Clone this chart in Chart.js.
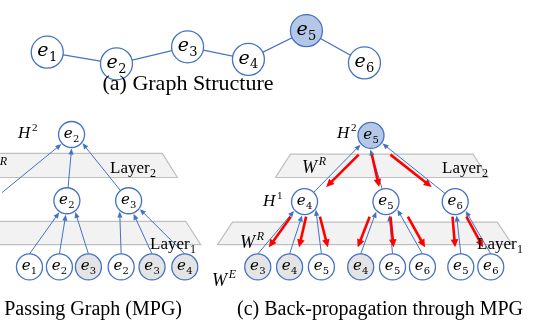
<!DOCTYPE html>
<html>
<head>
<meta charset="utf-8">
<script src="https://cdn.jsdelivr.net/npm/chart.js@4"></script>
<style>
  html, body { margin: 0; padding: 0; background: #fff; }
  #wrap { width: 538px; height: 329px; position: relative; }
</style>
</head>
<body>
<div id="wrap"><canvas id="c"></canvas></div>
<script>
// ---------- data ----------
// (a) entity graph: a chain e1 - e2 - ... - e6, e5 is the queried entity
const graphLabels = ['e1', 'e2', 'e3', 'e4', 'e5', 'e6'];
const graphX = [32, 106, 182, 247, 309, 371];
const graphY = [39, 52, 33, 47, 15, 51];
const graphQuery = 4;

// (b) message passing graph rooted at e2 (two layers)
const mpgLabels = ['e2', 'e1', 'e2', 'e3', 'e1', 'e2', 'e3', 'e2', 'e3', 'e4'];
const mpgX = [58, -27, 53, 119, 13, 45, 76, 111, 144, 179];
const mpgY = [131, 205, 205, 205, 279, 279, 279, 279, 279, 279];
const mpgParent = [-1, 0, 0, 0, 2, 2, 2, 3, 3, 3];
const mpgShaded = [false, false, false, false, false, false, true, false, true, true];

// (c) message passing graph rooted at e5, gradients flowing back down
const bpLabels = ['e5', 'e4', 'e5', 'e6', 'e3', 'e4', 'e5', 'e4', 'e5', 'e6', 'e5', 'e6'];
const bpX = [378, 307, 394, 468, 257, 291, 325, 367, 401, 433, 474, 506];
const bpY = [132, 206, 206, 206, 279, 279, 279, 279, 279, 279, 279, 279];
const bpParent = [-1, 0, 0, 0, 1, 1, 1, 2, 2, 2, 3, 3];
const bpShaded = [false, false, false, false, true, true, false, true, false, false, false, false];

// ---------- layout ----------
// where each incoming edge meets its parent circle (x offset as a fraction of the radius)
const mpgAttach = [0, -0.73, 0, 0.78, -0.55, -0.08, 0.6, -0.64, 0.35, 0.8];
const bpAttach = [0, -0.75, -0.05, 0.82, -0.75, -0.18, 0.81, -0.7, 0.24, 0.82, 0.1, 0.75];
// sideways offset of each back-propagation arrow from its edge, and its extent along the edge
const bpGradShift = [0, 7, -3.5, -5, -3, 5, 11.5, -10.5, 3, 13.5, -4, 3];
const gradSpan = { 1: [0.29, 0.78], 2: [0.23, 0.70] };

// layer bands: [top y, bottom y, left x at top, right x at top]
const bands = [
  [152, 179, -40, 155],
  [228, 254, -40, 180],
  [153, 179, 292, 487],
  [229, 254, 230, 513]
];

const BLUE = '#4472c4';
const RED = '#ff0000';
const MATH = "'DejaVu Serif', serif";
const SERIF = "'Liberation Serif', 'Times New Roman', serif";
const R_GRAPH = 16;
const R_TREE = 13;

// ---------- helpers ----------
function P(chart, x, y) {
  return [chart.scales.x.getPixelForValue(x), chart.scales.y.getPixelForValue(y)];
}
function depthOf(parent, i) {
  let d = 0;
  while (parent[i] >= 0) { i = parent[i]; d++; }
  return d;
}
function arrow(ctx, x0, y0, x1, y1, color, lw, hl, hw) {
  const dx = x1 - x0, dy = y1 - y0, d = Math.hypot(dx, dy);
  const ux = dx / d, uy = dy / d;
  const bx = x1 - ux * hl, by = y1 - uy * hl;
  ctx.save();
  ctx.strokeStyle = color; ctx.lineWidth = lw; ctx.lineCap = 'butt';
  ctx.beginPath(); ctx.moveTo(x0, y0); ctx.lineTo(bx + ux, by + uy); ctx.stroke();
  ctx.fillStyle = color;
  ctx.beginPath();
  ctx.moveTo(x1, y1);
  ctx.lineTo(bx - uy * hw, by + ux * hw);
  ctx.lineTo(bx + uy * hw, by - ux * hw);
  ctx.closePath(); ctx.fill();
  ctx.restore();
}
// base text followed by a lowered (sub) or raised (sup) index
function indexed(ctx, base, idx, x, y, size, opts) {
  const o = Object.assign({ align: 'left', italic: true, idxItalic: false, sup: false, font: MATH, idxScale: 0.66 }, opts || {});
  const bf = (o.italic ? 'italic ' : '') + size + 'px ' + o.font;
  const isz = Math.round(size * o.idxScale);
  const sf = (o.idxItalic ? 'italic ' : '') + isz + 'px ' + o.font;
  ctx.font = bf; const bw = ctx.measureText(base).width;
  ctx.font = sf; const iw = ctx.measureText(idx).width;
  const gap = o.sup ? size * 0.1 : size * 0.02;
  let x0 = x;
  if (o.align === 'center') x0 = x - (bw + gap + iw) / 2;
  else if (o.align === 'right') x0 = x - (bw + gap + iw);
  ctx.textAlign = 'left'; ctx.textBaseline = 'alphabetic'; ctx.fillStyle = '#000';
  ctx.font = bf; ctx.fillText(base, x0, y);
  ctx.font = sf; ctx.fillText(idx, x0 + bw + gap, o.sup ? y - size * 0.42 : y + size * 0.26);
}
function nodeLabel(ctx, label, x, y, size) {
  indexed(ctx, label.charAt(0), label.slice(1), x, y + size * 0.22, size, { align: 'center' });
}

// ---------- drawing plugin: bands, edges, gradients, text ----------
const diagram = {
  id: 'diagram',
  beforeDatasetsDraw(chart) {
    const ctx = chart.ctx;
    // layer bands
    bands.forEach(([t, b, l, r]) => {
      const flare = 15;
      const [lx, ty] = P(chart, l, t);
      const [rx] = P(chart, r, t);
      const [, by] = P(chart, l, b);
      ctx.save();
      ctx.beginPath();
      ctx.moveTo(lx, ty); ctx.lineTo(rx, ty);
      ctx.lineTo(rx + flare, by); ctx.lineTo(lx - flare, by);
      ctx.closePath();
      ctx.fillStyle = '#f2f2f2'; ctx.fill();
      ctx.strokeStyle = '#bfbfbf'; ctx.lineWidth = 1.2; ctx.stroke();
      ctx.restore();
    });
    // message edges (child -> parent)
    const trees = [
      [mpgX, mpgY, mpgParent, mpgAttach],
      [bpX, bpY, bpParent, bpAttach]
    ];
    trees.forEach(([xs, ys, parent, attach]) => {
      xs.forEach((_, i) => {
        const p = parent[i];
        if (p < 0) return;
        const [pxp, pyp] = P(chart, xs[p], ys[p]);
        const [cx, cy] = P(chart, xs[i], ys[i]);
        const ax = attach[i];
        const rr = R_TREE + 1;
        const tip = [pxp + ax * rr, pyp + Math.sqrt(1 - ax * ax) * rr];
        let start;
        if (depthOf(parent, i) === 2) {
          start = [cx, cy - R_TREE];
        } else {
          const dx = tip[0] - cx, dy = tip[1] - cy, d = Math.hypot(dx, dy);
          start = [cx + dx / d * R_TREE, cy + dy / d * R_TREE];
        }
        arrow(ctx, start[0], start[1], tip[0], tip[1], BLUE, 1, 6, 2.6);
      });
    });
    // gradients (parent -> child) in panel (c)
    bpX.forEach((_, i) => {
      const p = bpParent[i];
      if (p < 0) return;
      const [pxp, pyp] = P(chart, bpX[p], bpY[p]);
      const [cx, cy] = P(chart, bpX[i], bpY[i]);
      const [t0, t1] = gradSpan[depthOf(bpParent, i)];
      const s = bpGradShift[i];
      const x0 = pxp + (cx - pxp) * t0 + s, y0 = pyp + (cy - pyp) * t0;
      const x1 = pxp + (cx - pxp) * t1 + s, y1 = pyp + (cy - pyp) * t1;
      arrow(ctx, x0, y0, x1, y1, RED, 2.6, 8, 3.8);
    });
  },
  afterDatasetsDraw(chart) {
    const ctx = chart.ctx;
    ctx.save();
    // node names
    graphLabels.forEach((lb, i) => {
      const [x, y] = P(chart, graphX[i], graphY[i]);
      nodeLabel(ctx, lb, x, y, 19);
    });
    mpgLabels.forEach((lb, i) => {
      const [x, y] = P(chart, mpgX[i], mpgY[i]);
      nodeLabel(ctx, lb, x, y, 15);
    });
    bpLabels.forEach((lb, i) => {
      const [x, y] = P(chart, bpX[i], bpY[i]);
      nodeLabel(ctx, lb, x, y, 15);
    });
    // layer annotations
    const sup = { sup: true, font: SERIF, idxScale: 0.65 };
    const supIt = { sup: true, idxItalic: true, font: SERIF, idxScale: 0.65 };
    const lay = { italic: false, font: SERIF, idxScale: 0.7 };
    indexed(ctx, 'H', '2', 18, 138, 17, sup);
    indexed(ctx, 'W', 'R', -17, 173, 18, supIt);
    indexed(ctx, 'Layer', '2', 110, 173, 17, lay);
    indexed(ctx, 'Layer', '1', 150, 249, 17, lay);

    indexed(ctx, 'H', '2', 337, 138, 17, sup);
    indexed(ctx, 'W', 'R', 302, 173, 18, supIt);
    indexed(ctx, 'Layer', '2', 442, 173, 17, lay);
    indexed(ctx, 'H', '1', 263, 206, 17, sup);
    indexed(ctx, 'W', 'R', 240, 248, 18, supIt);
    indexed(ctx, 'Layer', '1', 477, 249, 17, lay);
    indexed(ctx, 'W', 'E', 212, 286, 18, supIt);

    // captions
    ctx.fillStyle = '#000';
    ctx.textBaseline = 'alphabetic';
    ctx.font = '22px ' + SERIF;
    ctx.textAlign = 'center';
    ctx.fillText('(a) Graph Structure', 188, 90);
    ctx.font = '20px ' + SERIF;
    ctx.textAlign = 'right';
    ctx.fillText('(b) Message Passing Graph (MPG)', 182, 315);
    ctx.textAlign = 'left';
    ctx.fillText('(c) Back-propagation through MPG', 237, 315);
    ctx.restore();
  }
};

// ---------- chart ----------
const pts = (xs, ys) => xs.map((x, i) => ({ x, y: ys[i] }));
const fillFor = (shaded) => shaded.map(s => (s ? '#e4e4e4' : '#ffffff'));

new Chart(document.getElementById('c'), {
  type: 'scatter',
  data: {
    datasets: [
      {
        label: 'Graph Structure',
        data: pts(graphX, graphY),
        showLine: true,
        borderColor: BLUE,
        borderWidth: 1.2,
        pointRadius: R_GRAPH,
        pointBorderWidth: 1.3,
        pointBorderColor: BLUE,
        pointBackgroundColor: graphLabels.map((_, i) => (i === graphQuery ? '#b4c7e7' : '#ffffff')),
        clip: false
      },
      {
        label: 'Message Passing Graph (MPG)',
        data: pts(mpgX, mpgY),
        showLine: false,
        pointRadius: R_TREE,
        pointBorderWidth: 1.3,
        pointBorderColor: BLUE,
        pointBackgroundColor: fillFor(mpgShaded),
        clip: false
      },
      {
        label: 'Back-propagation through MPG',
        data: pts(bpX, bpY),
        showLine: false,
        pointRadius: R_TREE,
        pointBorderWidth: 1.3,
        pointBorderColor: BLUE,
        pointBackgroundColor: bpLabels.map((_, i) => (i === 0 ? '#b4c7e7' : (bpShaded[i] ? '#e4e4e4' : '#ffffff'))),
        clip: false
      }
    ]
  },
  options: {
    responsive: true,
    maintainAspectRatio: false,
    animation: false,
    layout: { padding: 0 },
    plugins: { legend: { display: false }, tooltip: { enabled: false } },
    elements: { point: { hoverRadius: R_TREE } },
    scales: {
      x: { type: 'linear', display: false, min: 0, max: 538 },
      y: { type: 'linear', display: false, min: 0, max: 329, reverse: true }
    }
  },
  plugins: [diagram]
});
</script>
</body>
</html>
